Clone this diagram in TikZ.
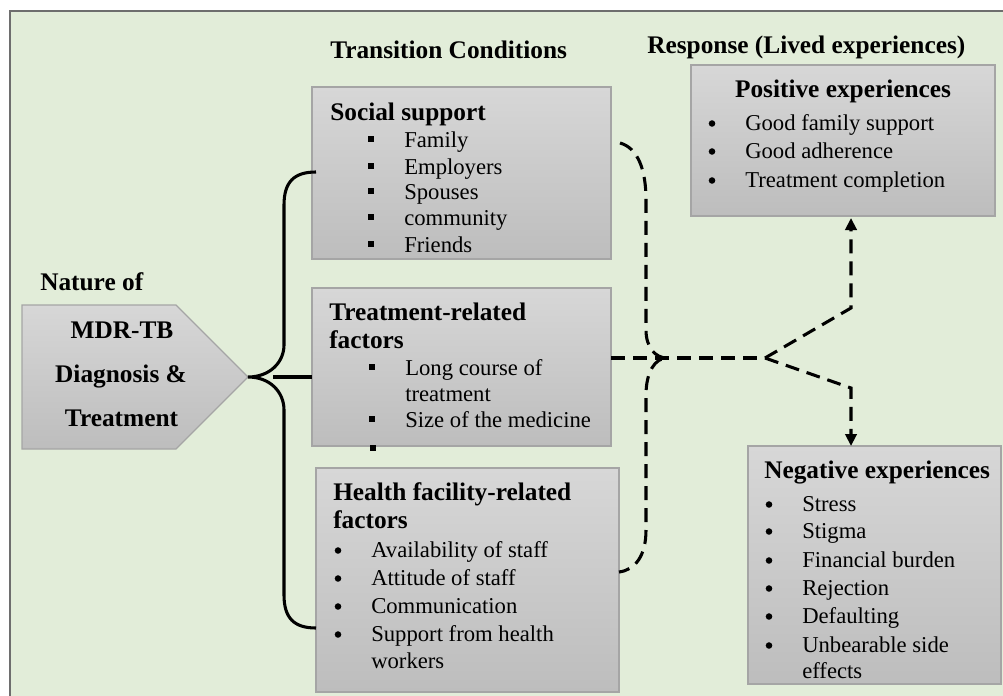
\documentclass[tikz,border=0pt]{standalone}
\usepackage{fontspec}
\setmainfont{Liberation Serif}
\usetikzlibrary{calc,arrows.meta}
\definecolor{bggreen}{RGB}{226,237,217}
\definecolor{framegray}{RGB}{110,110,110}
\definecolor{boxtop}{RGB}{215,215,215}
\definecolor{boxbot}{RGB}{189,189,189}
\definecolor{boxline}{RGB}{165,165,165}
\tikzset{
	shadebox/.style={draw=boxline, line width=0.9pt, top color=boxtop, bottom color=boxbot},
	panel/.style={shadebox, inner sep=0pt, outer sep=0pt, anchor=north west},
	head/.style={anchor=base west, inner sep=0pt, font=\fontsize{19}{22}\selectfont\bfseries},
	txt/.style={anchor=base west, inner sep=0pt, font=\fontsize{17}{21}\selectfont},
	sqb/.style={fill=black, inner sep=0pt, minimum size=4.8pt},
	rdb/.style={circle, fill=black, inner sep=0pt, minimum size=4.9pt},
	brace/.style={line width=2.3pt},
	flow/.style={line width=2.3pt, dash pattern=on 10.5pt off 6pt},
	tip/.style={-{Triangle[length=9pt,width=8.5pt]}}
}
\def\panel#1(#2,#3)#4#5{\node[panel, minimum width=#4*0.75pt, minimum height=#5*0.75pt] (#1) at (#2,#3) {};}
\def\sqitem#1(#2,#3)#4{\node[sqb] (#1b) at (#2-33,#3-8) {}; \node[txt] (#1) at (#2,#3) {#4};}
\def\rditem#1(#2,#3)#4{\node[rdb] (#1b) at (#2-33,#3-6.5) {}; \node[txt] (#1) at (#2,#3) {#4};}

\begin{document}
\begin{tikzpicture}[x=0.75pt, y=-0.75pt]
			%%%%% FRAME %%%%%
			\clip (0,0) rectangle (1003,696);
			\draw[framegray, fill=bggreen, line width=1.2pt] (10,11) rectangle (1012,704);
			
			%%%%% TITLES %%%%%
			\node[head] (ttrans) at (330,58) {Transition Conditions};
			\node[head] (tresp) at (647,53) {Response (Lived experiences)};
			\node[head] (tnat) at (40,290) {Nature of};
			
			%%%%% NATURE ARROW %%%%%
			\coordinate (nat) at (248,377);
			\draw[shadebox] (22,305) -- (176,305) -- (nat) -- (176,449) -- (22,449) -- cycle;
			\node[head, anchor=base] (nat1) at (122,338) {MDR-TB};
			\node[head, anchor=base] (nat2) at (121,382) {Diagnosis \&};
			\node[head, anchor=base] (nat3) at (121.5,426) {Treatment};
			
			%%%%% BOXES %%%%%
			\panel soc(312,87){299}{172}
			\panel trt(312,288){299}{158}
			\panel hlt(316,468){303}{224}
			\panel pos(691,65){304}{151}
			\panel neg(748,446){253}{238}
			
			% social support
			\node[head] (soch) at (330,120) {Social support};
			\sqitem s1(404,147){Family}
			\sqitem s2(404,174){Employers}
			\sqitem s3(404,199){Spouses}
			\sqitem s4(404,225){community}
			\sqitem s5(404,252){Friends}
			
			% treatment-related
			\node[head] (trth) at (329,320) {Treatment-related};
			\node[head] (trth2) at (329,348) {factors};
			\sqitem t1(405,375){Long course of}
			\node[txt] (t1c) at (405,401) {treatment};
			\sqitem t2(405,427){Size of the medicine}
			\node[sqb] (t3b) at (373,448) {};
			
			% health facility-related
			\node[head] (hlth) at (333,500) {Health facility-related};
			\node[head] (hlth2) at (333,528) {factors};
			\rditem h1(371,557){Availability of staff}
			\rditem h2(371,585){Attitude of staff}
			\rditem h3(371,613){Communication}
			\rditem h4(371,641){Support from health}
			\node[txt] (h4c) at (371,668) {workers};
			
			% positive
			\node[head, anchor=base] (posh) at (843,97) {Positive experiences};
			\rditem p1(745,130){Good family support}
			\rditem p2(745,158){Good adherence}
			\rditem p3(745,187){Treatment completion}
			
			% negative
			\node[head] (negh) at (764,478) {Negative experiences};
			\rditem n1(802,511){Stress}
			\rditem n2(802,538){Stigma}
			\rditem n3(802,567){Financial burden}
			\rditem n4(802,595){Rejection}
			\rditem n5(802,623){Defaulting}
			\rditem n6(802,652){Unbearable side}
			\node[txt] (n6c) at (802,678) {effects};
			
			%%%%% LEFT BRACE %%%%%
			\draw[brace] ($(soc.north west)+(4,85)$) .. controls (294,172) and (284,182) .. (284,205)
				-- (284,345) .. controls (284,362) and (270,377) .. (nat)
				.. controls (270,377) and (284,392) .. (284,410)
				-- (284,595) .. controls (284,618) and (294,628) .. ($(hlt.north west)+(0,160)$);
			\draw[brace] ($(nat)+(25,0)$) -- (nat -| trt.west);
			
			%%%%% DASHED FLOW %%%%%
			\coordinate (fk) at ($(trt.north east)+(154,70)$);
			\draw[flow] ($(soc.north east)+(9,56)$) .. controls (638,148) and (646,170) .. (646,200)
				-- (646,330) .. controls (646,347) and (655,358) .. (667,358)
				.. controls (655,358) and (646,372) .. (646,395)
				-- (646,530) .. controls (646,556) and (635,570) .. ($(hlt.north east)+(0,104)$);
			\draw[flow] ($(trt.north east)+(0,70)$) -- (fk);
			\draw[flow, tip] (fk) -- (851,308) -- ($(pos.south)+(8,2)$);
			\draw[flow, tip] (fk) -- (851,388) -- ($(neg.north west)+(103,0)$);
			
		\end{tikzpicture}
\end{document}
